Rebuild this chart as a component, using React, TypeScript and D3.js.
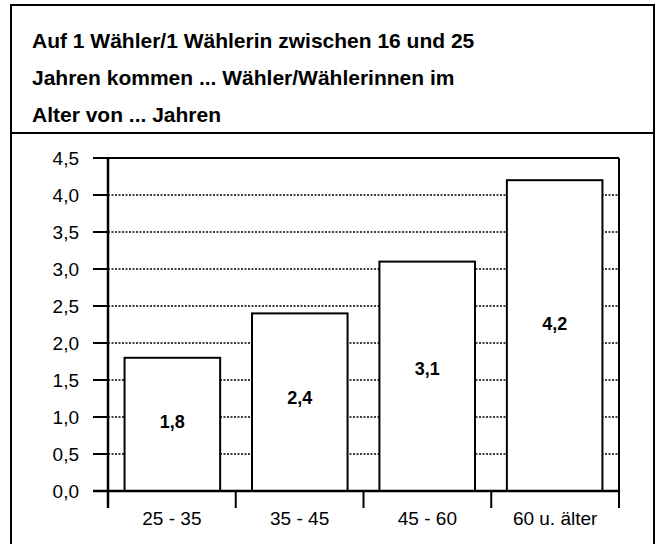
import React from "react";
import * as d3 from "d3";

const titleLines = [
  "Auf 1 Wähler/1 Wählerin zwischen 16 und 25",
  "Jahren kommen ... Wähler/Wählerinnen im",
  "Alter von ... Jahren",
];
const categories = ["25 - 35", "35 - 45", "45 - 60", "60 u. älter"];
const values = [1.8, 2.4, 3.1, 4.2];
const valueLabels = ["1,8", "2,4", "3,1", "4,2"];
const yTicks = [0, 0.5, 1, 1.5, 2, 2.5, 3, 3.5, 4, 4.5];

const W = 659;
const H = 544;
const plot = { left: 108, right: 619, top: 158, bottom: 491 };
const font = "'Liberation Sans', Arial, Helvetica, sans-serif";

export default function App() {
  const x = d3
    .scaleBand<string>()
    .domain(categories)
    .range([plot.left, plot.right])
    .paddingInner(0.25)
    .paddingOuter(0.13);
  const xEdges = d3
    .scaleBand<string>()
    .domain(categories)
    .range([plot.left, plot.right])
    .padding(0);
  const y = d3.scaleLinear().domain([0, 4.5]).range([plot.bottom, plot.top]);
  const fmt = (v: number) => d3.format(".1f")(v).replace(".", ",");

  return (
    <svg
      width={W}
      height={H}
      style={{ position: "absolute", left: 0, top: 0, background: "#fff" }}
      fontFamily={font}
    >
      <rect x={0} y={0} width={W} height={H} fill="#fff" />
      {/* outer frame */}
      <rect x={11} y={5} width={643} height={H + 10} fill="none" stroke="#000" strokeWidth={2} />
      <line x1={11} x2={654} y1={133} y2={133} stroke="#000" strokeWidth={2} />
      {titleLines.map((t, i) => (
        <text key={i} x={32} y={48 + i * 37} fontSize={21} fontWeight="bold" fill="#000">
          {t}
        </text>
      ))}

      {/* gridlines */}
      {yTicks
        .filter((t) => t > 0 && t < 4.5)
        .map((t) => (
          <line
            key={t}
            x1={plot.left}
            x2={plot.right}
            y1={y(t)}
            y2={y(t)}
            stroke="#000"
            strokeWidth={1.3}
            strokeDasharray="2,1.5"
          />
        ))}

      {/* bars */}
      {values.map((v, i) => (
        <rect
          key={i}
          x={x(categories[i])!}
          y={y(v)}
          width={x.bandwidth()}
          height={y(0) - y(v)}
          fill="#fff"
          stroke="#000"
          strokeWidth={2}
        />
      ))}
      {values.map((v, i) => (
        <text
          key={i}
          x={x(categories[i])! + x.bandwidth() / 2}
          y={y(v * 0.55 - 0.05) + 6.5}
          textAnchor="middle"
          fontSize={18}
          fontWeight="bold"
          fill="#000"
        >
          {valueLabels[i]}
        </text>
      ))}

      {/* plot frame */}
      <line x1={plot.left} x2={plot.right} y1={plot.top} y2={plot.top} stroke="#000" strokeWidth={2} />
      <line x1={plot.right} x2={plot.right} y1={plot.top} y2={plot.bottom + 17} stroke="#000" strokeWidth={2} />
      <line x1={plot.left} x2={plot.left} y1={plot.top} y2={plot.bottom + 17} stroke="#000" strokeWidth={2.5} />
      <line x1={plot.left - 15} x2={plot.right} y1={plot.bottom} y2={plot.bottom} stroke="#000" strokeWidth={2.5} />

      {/* y ticks */}
      {yTicks.map((t) => (
        <g key={t}>
          <line x1={plot.left - 15} x2={plot.left} y1={y(t)} y2={y(t)} stroke="#000" strokeWidth={2} />
          <text x={79} y={y(t) + 7} textAnchor="end" fontSize={19} fill="#000">
            {fmt(t)}
          </text>
        </g>
      ))}

      {/* x ticks */}
      {categories.map((c, i) => (
        <g key={c}>
          {i > 0 && (
            <line
              x1={xEdges(c)!}
              x2={xEdges(c)!}
              y1={plot.bottom}
              y2={plot.bottom + 17}
              stroke="#000"
              strokeWidth={2}
            />
          )}
          <text
            x={xEdges(c)! + xEdges.bandwidth() / 2}
            y={525}
            textAnchor="middle"
            fontSize={19}
            fill="#000"
          >
            {c}
          </text>
        </g>
      ))}
    </svg>
  );
}
